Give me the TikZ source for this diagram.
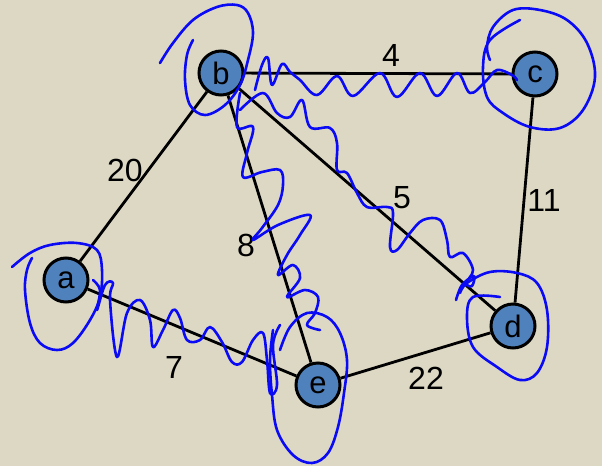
\documentclass[tikz,border=0pt]{standalone}
\usepackage{fontspec}
\setmainfont{Liberation Sans}
\definecolor{paper}{RGB}{221,216,196}
\definecolor{vertexblue}{RGB}{79,129,189}
\definecolor{ink}{RGB}{10,10,245}
\begin{document}
\begin{tikzpicture}[x=1pt,y=-1pt,
  vertex/.style={circle,draw=black,line width=3pt,fill=vertexblue,minimum size=44pt,inner sep=0pt,
    font=\fontsize{31}{34}\selectfont},
  edge/.style={draw=black,line width=2.8pt},
  weight/.style={font=\fontsize{32}{36}\selectfont,inner sep=0pt},
  scribble/.style={draw=ink,line width=2.6pt,line cap=round,line join=round}]
% canvas
\fill[paper] (0,0) rectangle (602,466);
\useasboundingbox (0,0) rectangle (602,466);

% vertices
\node[vertex] (b) at (221,73) {b};
\node[vertex] (c) at (535,74) {c};
\node[vertex] (a) at (66,280) {a};
\node[vertex] (d) at (513,326) {d};
\node[vertex] (e) at (318,385) {e};

% weighted edges
\path[edge] (b) -- (c);
\path[edge] (b) -- (a);
\path[edge] (b) -- (d);
\path[edge] (b) -- (e);
\path[edge] (c) -- (d);
\path[edge] (a) -- (e);
\path[edge] (e) -- (d);

\node[weight] (w4)  at (391,55)  {4};
\node[weight] (w20) at (125,170) {20};
\node[weight] (w5)  at (402,198) {5};
\node[weight] (w11) at (544,200) {11};
\node[weight] (w8)  at (246,245) {8};
\node[weight] (w7)  at (174,367) {7};
\node[weight] (w22) at (426,378) {22};

% pen marks: loops round the chosen vertices
\draw[scribble] plot[smooth,tension=0.6] coordinates {
  (160,63) (173,43) (193,20) (217,7) (237,5) (248,13) (253,33) (248,60) (240,85)
  (225,105) (205,115) (190,105) (185,80) (187,55) (193,40)};
\draw[scribble] plot[smooth,tension=0.6] coordinates {
  (520,20) (490,40) (483,67) (487,97) (503,113) (530,127) (560,128) (583,110)
  (595,77) (587,43) (567,20) (540,10) (513,10) (493,27) (487,47) (490,60)};
\draw[scribble] plot[smooth,tension=0.6] coordinates {
  (12,267) (30,253) (50,245) (77,243) (97,250) (102,270) (100,297) (90,320)
  (73,343) (57,350) (40,343) (30,323) (25,290) (27,270) (32,258)};
\draw[scribble] plot[smooth,tension=0.6] coordinates {
  (500,297) (473,297) (467,317) (473,347) (497,367) (520,380) (537,373) (547,347)
  (547,310) (537,283) (517,273) (490,272) (467,283) (460,293)};
\draw[scribble] plot[smooth,tension=0.6] coordinates {
  (273,330) (270,360) (272,395) (277,430) (293,455) (312,463) (328,453) (338,427)
  (344,393) (347,360) (340,333) (327,317) (307,313) (290,327) (280,350)};

% pen marks: waves along the chosen edges
\draw[scribble] plot[smooth,tension=0.6] coordinates {
  (255,90) (262,65) (268,58) (272,85) (282,64) (290,72) (300,80) (317,95) (337,76)
  (353,96) (380,73) (397,97) (420,73) (437,96) (457,73) (470,93) (485,82) (497,70)
  (512,75) (517,80)};
\draw[scribble] plot[smooth,tension=0.6] coordinates {
  (240,110) (263,93) (277,113) (290,117) (302,100) (310,127) (330,128) (337,143)
  (337,170) (347,173) (357,193) (367,207) (387,207) (393,213) (390,247) (397,250)
  (410,233) (423,220) (440,220) (447,240) (450,257) (463,253) (473,270) (466,283)
  (472,286) (474,276) (462,285) (456,300)};
\draw[scribble] plot[smooth,tension=0.6] coordinates {
  (240,93) (237,127) (253,127) (247,153) (243,177) (262,172) (280,170) (283,185)
  (278,205) (262,228) (253,240) (278,225) (310,215) (300,235) (287,255) (278,275)
  (293,265) (300,278) (287,297) (305,290) (318,297) (315,313) (307,325) (320,330)};
\draw[scribble] plot[smooth,tension=0.6] coordinates {
  (93,280) (100,290) (97,310) (105,285) (113,283) (110,300) (117,357) (127,313)
  (140,300) (150,320) (153,347) (163,330) (173,310) (180,318) (187,340) (200,340)
  (210,327) (222,342) (232,362) (242,362) (253,340) (263,333) (267,360) (270,393)
  (277,385) (273,345) (280,325)};
\end{tikzpicture}
\end{document}
